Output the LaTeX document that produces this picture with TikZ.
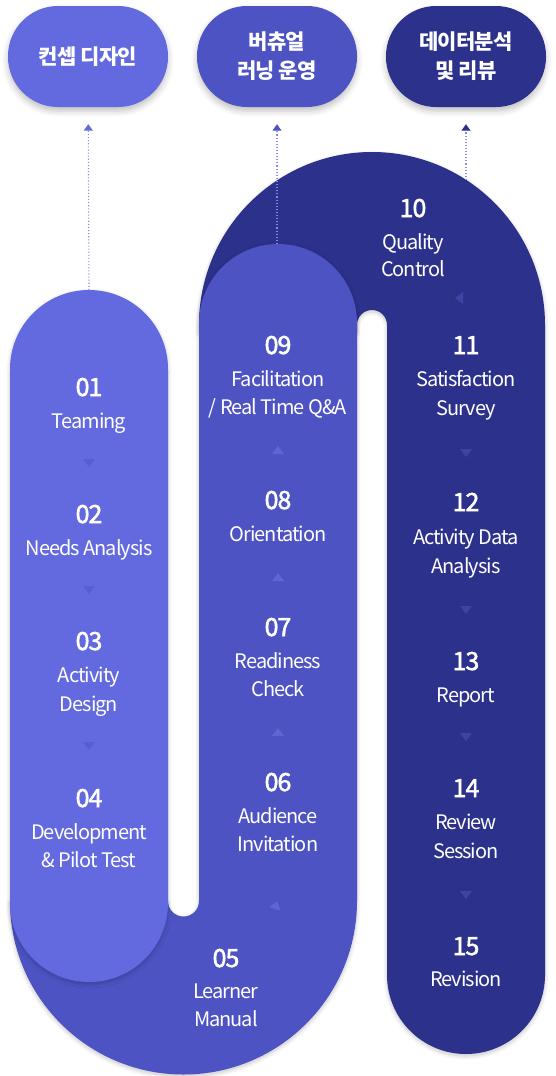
\documentclass[tikz,border=0pt]{standalone}
\usepackage{fontspec}
\setmainfont{Noto Sans CJK KR}
\newfontfamily\labelfont[LetterSpace=-5]{Noto Sans CJK KR}
\newfontfamily\numberfont[LetterSpace=-4, FakeBold=2]{Noto Sans CJK KR}
\newfontfamily\headfont[LetterSpace=-4]{Noto Sans CJK KR}
\usetikzlibrary{arrows.meta,shadows.blur}

\definecolor{cA}{HTML}{636ADF}
\definecolor{cB}{HTML}{4D53C3}
\definecolor{cC}{HTML}{2C318B}
\definecolor{triA}{HTML}{575DD3}
\definecolor{triB}{HTML}{5F66D3}
\definecolor{triC}{HTML}{3E44A3}
\definecolor{dotc}{HTML}{858AEC}

\tikzset{
  num/.style={text=white, font=\numberfont\fontsize{25}{25}\selectfont, anchor=base, inner sep=0pt},
  lbl/.style={text=white, font=\labelfont\fontsize{20}{20}\selectfont, anchor=base, inner sep=0pt},
  pill/.style={rectangle, rounded corners=50pt, minimum width=160pt, minimum height=101pt,
    inner sep=0pt, text=white, align=center, font=\headfont\fontsize{21}{29}\selectfont\bfseries,
    blur shadow={shadow xshift=0pt, shadow yshift=-4pt, shadow blur radius=6pt, shadow opacity=25}},
  soft/.style={blur shadow={shadow xshift=0pt, shadow yshift=-2pt, shadow blur radius=4pt,
    shadow opacity=22, shadow blur steps=8}},
  guide/.style={dotc, line width=1.1pt, dash pattern=on 1.1pt off 2pt},
  tri/.pic={\fill[pic actions] (0,4) -- (-6,-4) -- (6,-4) -- cycle;}
}

\begin{document}
\begin{tikzpicture}[x=1pt,y=-1pt]
\useasboundingbox (0,0) rectangle (555,1076);

% dark arch: stages 10 to 15 (left leg ends under the middle band)
\fill[cC, soft] (199,332) -- (199,325) arc[start angle=180, end angle=360, radius=173]
  -- (545,975) arc[start angle=0, end angle=180, radius=79]
  -- (387,325) arc[start angle=0, end angle=-180, radius=15]
  -- (357,332) -- cycle;

% middle U band: stages 05 to 09 (left leg ends under the light column)
\fill[cB, soft] (199,323) arc[start angle=180, end angle=360, radius=79]
  -- (357,901) arc[start angle=0, end angle=180, radius=173.5]
  -- (168,901) arc[start angle=180, end angle=0, radius=15.5]
  -- cycle;

% light column: stages 01 to 04
\fill[cA, soft] (10,369) arc[start angle=180, end angle=360, radius=79]
  -- (168,903) arc[start angle=0, end angle=180, radius=79] -- cycle;

% phase headers
\node[pill, fill=cA] (pA) at (88,56.5) {컨셉 디자인};
\node[pill, fill=cB] (pB) at (277,56.5) {버츄얼\\러닝 운영};
\node[pill, fill=cC] (pC) at (466,56.5) {데이터분석\\및 리뷰};

% guide lines from each band to its header
\coordinate (topA) at (89,290);
\coordinate (topB) at (277,244);
\coordinate (topC) at (466,180);
\draw[guide, -{Triangle[width=9pt,length=6.5pt,color=cA]}, shorten >=17pt] (topA) -- (pA);
\draw[guide, -{Triangle[width=9pt,length=6.5pt,color=cB]}, shorten >=17pt] (topB) -- (pB);
\draw[guide, -{Triangle[width=9pt,length=6.5pt,color=cC]}, shorten >=17pt] (topC) -- (pC);

% flow markers
\pic[fill=triA] at (89,463) {tri};
\pic[fill=triA] at (89,590) {tri};
\pic[fill=triA] at (89,746) {tri};
\pic[fill=triB, rotate=162] at (276,905) {tri};
\pic[fill=triB, rotate=180] at (278,732) {tri};
\pic[fill=triB, rotate=180] at (278,577) {tri};
\pic[fill=triB, rotate=180] at (278,450) {tri};
\pic[fill=triC, rotate=-90] at (459,298) {tri};
\pic[fill=triC] at (466,453) {tri};
\pic[fill=triC] at (466,610) {tri};
\pic[fill=triC] at (466,737) {tri};
\pic[fill=triC] at (466,895) {tri};

% stage labels, column 1
\node[num] (n01) at (89,396) {01};
\node[lbl] (t01) at (89,428) {Teaming};
\node[num] (n02) at (89,523) {02};
\node[lbl] (t02) at (89,555) {Needs Analysis};
\node[num] (n03) at (89,650) {03};
\node[lbl] (t03a) at (89,682) {Activity};
\node[lbl] (t03b) at (89,711) {Design};
\node[num] (n04) at (89,807) {04};
\node[lbl] (t04a) at (89,839) {Development};
\node[lbl] (t04b) at (89,867) {\& Pilot Test};

% column 2
\node[num] (n05) at (226,967) {05};
\node[lbl] (t05a) at (226,998) {Learner};
\node[lbl] (t05b) at (226,1026) {Manual};
\node[num] (n06) at (278,791) {06};
\node[lbl] (t06a) at (278,823) {Audience};
\node[lbl] (t06b) at (278,851) {Invitation};
\node[num] (n07) at (278,636) {07};
\node[lbl] (t07a) at (278,668) {Readiness};
\node[lbl] (t07b) at (278,696) {Check};
\node[num] (n08) at (278,509) {08};
\node[lbl] (t08) at (278,541) {Orientation};
\node[num] (n09) at (278,354) {09};
\node[lbl] (t09a) at (278,386) {Facilitation};
\node[lbl] (t09b) at (278,414) {/ Real Time Q\&A};

% column 3
\node[num] (n10) at (413,217) {10};
\node[lbl] (t10a) at (413,249) {Quality};
\node[lbl] (t10b) at (413,276) {Control};
\node[num] (n11) at (466,354) {11};
\node[lbl] (t11a) at (466,386) {Satisfaction};
\node[lbl] (t11b) at (466,415) {Survey};
\node[num] (n12) at (466,511) {12};
\node[lbl] (t12a) at (466,544) {Activity Data};
\node[lbl] (t12b) at (466,573) {Analysis};
\node[num] (n13) at (466,670) {13};
\node[lbl] (t13) at (466,702) {Report};
\node[num] (n14) at (466,797) {14};
\node[lbl] (t14a) at (466,829) {Review};
\node[lbl] (t14b) at (466,858) {Session};
\node[num] (n15) at (466,955) {15};
\node[lbl] (t15) at (466,986) {Revision};
\end{tikzpicture}
\end{document}
